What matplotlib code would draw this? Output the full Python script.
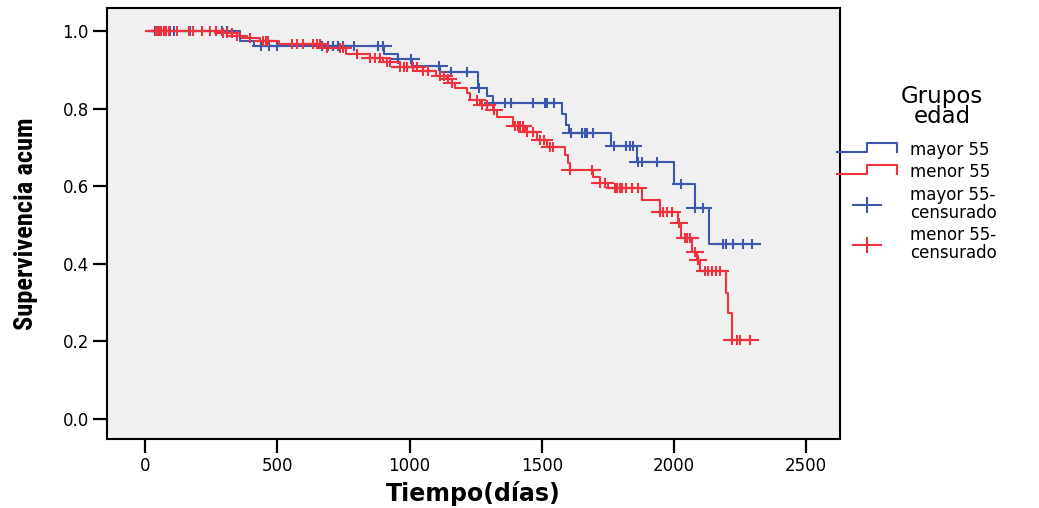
import numpy as np
import matplotlib
matplotlib.use("Agg")
import matplotlib.pyplot as plt
from matplotlib.lines import Line2D
from matplotlib.path import Path
from matplotlib.legend_handler import HandlerBase

# Kaplan-Meier steps, mayor 55 (blue)
blue_t = [35, 360, 410, 905, 957, 1009, 1116, 1260, 1293, 1316, 1577, 1592, 1604,
          1761, 1860, 2000, 2080, 2133]
blue_s = [1.0, 0.975, 0.962, 0.94, 0.927, 0.911, 0.893, 0.853, 0.832, 0.815, 0.786,
          0.758, 0.736, 0.704, 0.663, 0.606, 0.544, 0.451]
blue_end = 2296
blue_cens = [38, 45, 52, 60, 95, 110, 170, 270, 290, 310, 440, 470, 500, 670, 690,
             710, 730, 750, 790, 880, 900, 957, 1006, 1110, 1157, 1218, 1264, 1317,
             1361, 1384, 1467, 1513, 1520, 1545, 1611, 1653, 1662, 1672, 1694, 1774,
             1820, 1835, 1846, 1865, 1880, 1937, 2027, 2080, 2111, 2186, 2197, 2224,
             2262, 2296]

# Kaplan-Meier steps, menor 55 (red)
red_t = [5, 272, 348, 386, 435, 505, 670, 760, 850, 900, 964, 1050, 1100, 1140,
         1160, 1172, 1218, 1229, 1267, 1316, 1331, 1392, 1437, 1483, 1520, 1589,
         1600, 1607, 1694, 1721, 1751, 1880, 1948, 2016, 2027, 2069, 2088, 2099,
         2197, 2205, 2220]
red_s = [1.0, 0.994, 0.987, 0.981, 0.975, 0.966, 0.955, 0.94, 0.93, 0.92, 0.908,
         0.897, 0.885, 0.875, 0.866, 0.853, 0.84, 0.822, 0.81, 0.797, 0.779, 0.755,
         0.74, 0.72, 0.70, 0.68, 0.66, 0.642, 0.624, 0.608, 0.595, 0.564, 0.533,
         0.505, 0.467, 0.431, 0.41, 0.38, 0.325, 0.273, 0.204]
red_end = 2288
red_cens = [40, 50, 55, 62, 70, 80, 90, 120, 165, 180, 215, 245, 270, 295, 310, 330,
            348, 397, 446, 458, 465, 556, 575, 598, 635, 650, 662, 688, 737, 749,
            802, 851, 870, 889, 915, 927, 964, 978, 991, 1013, 1030, 1051, 1070,
            1116, 1130, 1145, 1161, 1256, 1275, 1293, 1320, 1399, 1410, 1418, 1430,
            1445, 1467, 1494, 1510, 1530, 1543, 1607, 1690, 1721, 1740, 1777, 1785,
            1795, 1805, 1820, 1840, 1865, 1948, 1960, 1975, 1993, 2020, 2042, 2050,
            2061, 2080, 2092, 2118, 2130, 2145, 2160, 2175, 2220, 2239, 2250, 2288]

labels = ["mayor 55", "menor 55", "mayor 55-\ncensurado", "menor 55-\ncensurado"]
BLUE = "#3d57ad"
RED = "#f0323f"

# wide cross used by SPSS for censored cases
cross = Path([(-1, 0), (1, 0), (0, -0.55), (0, 0.55)],
             [Path.MOVETO, Path.LINETO, Path.MOVETO, Path.LINETO])


def surv_at(times, surv, pts):
    idx = np.searchsorted(times, pts, side="right") - 1
    return np.asarray(surv)[np.clip(idx, 0, None)]


class StepHandler(HandlerBase):
    def create_artists(self, legend, orig_handle, xdescent, ydescent,
                       width, height, fontsize, trans):
        x0, y0 = -xdescent, -ydescent
        xs = [x0, x0 + 0.5 * width, x0 + 0.5 * width, x0 + width, x0 + width]
        ys = [y0 + 0.25 * height, y0 + 0.25 * height, y0 + 1.05 * height,
              y0 + 1.05 * height, y0 + 0.25 * height]
        ln = Line2D(xs, ys, color=orig_handle.get_color(),
                    lw=orig_handle.get_linewidth())
        ln.set_transform(trans)
        return [ln]


plt.rcParams["font.family"] = "DejaVu Sans"
fig = plt.figure(figsize=(10.39, 5.08), dpi=100)
ax = fig.add_axes([0.103, 0.136, 0.7055, 0.848])
ax.set_facecolor("#f0f0f0")

for t, s, end, cens, col in [(blue_t, blue_s, blue_end, blue_cens, BLUE),
                             (red_t, red_s, red_end, red_cens, RED)]:
    ax.plot(list(t) + [end], list(s) + [s[-1]], drawstyle="steps-post",
            color=col, lw=1.5)
    ax.plot(cens, surv_at(t, s, cens), linestyle="none", marker=cross,
            ms=13, mew=1.5, color=col)

ax.set_xlim(-144, 2628)
ax.set_ylim(-0.052, 1.059)
ax.set_xticks(np.arange(0, 2501, 500))
ax.set_yticks(np.arange(0, 1.01, 0.2))
ax.set_yticklabels([f"{v:.1f}" for v in np.arange(0, 1.01, 0.2)])
ax.tick_params(direction="out", length=10, width=1.6, labelsize=12, pad=3,
               colors="black")
for sp in ax.spines.values():
    sp.set_linewidth(1.5)
    sp.set_color("black")

ax.set_xlabel("Tiempo(días)", fontsize=17, fontweight="bold", labelpad=4)
ax.set_ylabel("Supervivencia acum", fontsize=19, fontweight="bold",
              family=["Roboto Condensed", "Liberation Sans Narrow", "DejaVu Sans"],
              fontstretch="condensed", labelpad=18)

fig.text(0.9065, 0.79, "Grupos\nedad", ha="center", va="center", fontsize=16.5,
         linespacing=0.8)

handles = [Line2D([], [], color=BLUE, lw=1.5), Line2D([], [], color=RED, lw=1.5),
           Line2D([], [], color=BLUE, marker=cross, ms=21, mew=1.5, ls="none"),
           Line2D([], [], color=RED, marker=cross, ms=21, mew=1.5, ls="none")]
leg = fig.legend(handles, labels, loc="upper left",
                 bbox_to_anchor=(0.806, 0.722), frameon=False, fontsize=12,
                 handlelength=3.6, handletextpad=0.75, labelspacing=0.25,
                 borderaxespad=0, borderpad=0,
                 handler_map={handles[0]: StepHandler(), handles[1]: StepHandler()})
for txt in leg.get_texts():
    txt.set_linespacing(1.0)

fig.savefig("out.png", dpi=100)
